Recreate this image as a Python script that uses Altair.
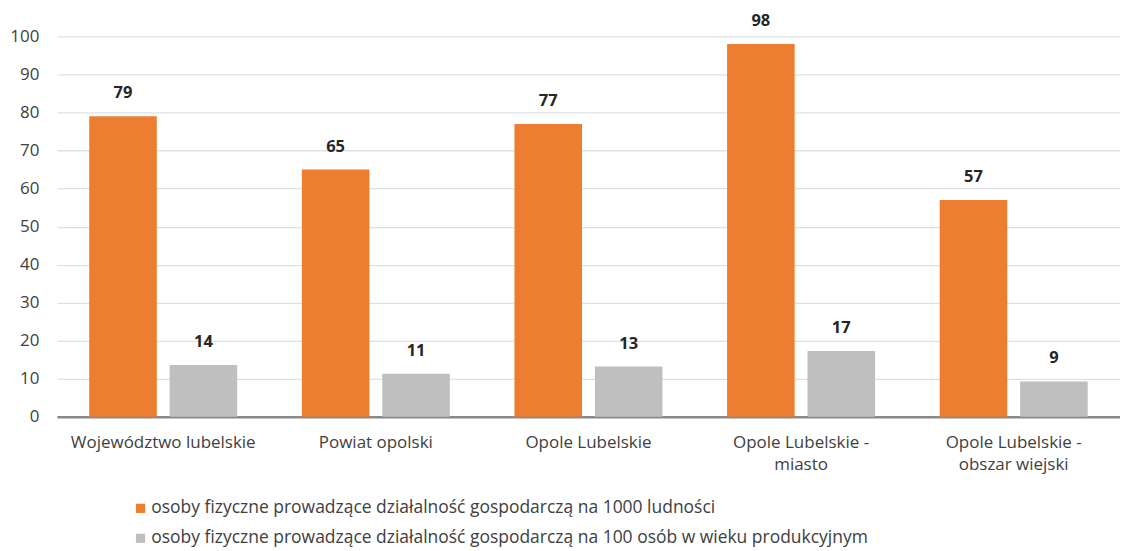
import altair as alt
import pandas as pd

categories = [
    "Województwo lubelskie",
    "Powiat opolski",
    "Opole Lubelskie",
    "Opole Lubelskie - miasto",
    "Opole Lubelskie - obszar wiejski",
]
series = [
    "osoby fizyczne prowadzące działalność gospodarczą na 1000 ludności",
    "osoby fizyczne prowadzące działalność gospodarczą na 100 osób w wieku produkcyjnym",
]
values_1000 = [79, 65, 77, 98, 57]
values_100 = [13.6, 11.3, 13.2, 17.3, 9.3]
colors = ["#ED7D31", "#BFBFBF"]
y_ticks = list(range(0, 101, 10))

rows = []
for c, a, b in zip(categories, values_1000, values_100):
    rows.append({"category": c, "series": series[0], "value": a})
    rows.append({"category": c, "series": series[1], "value": b})
df = pd.DataFrame(rows)

FONT = "Open Sans"

base = alt.Chart(df).encode(
    x=alt.X(
        "category:N",
        sort=categories,
        scale=alt.Scale(paddingInner=0.304, paddingOuter=0.152),
        axis=alt.Axis(
            title=None,
            labelAngle=0,
            labelExpr="split(replace(datum.label, ' - ', ' -|'), '|')",
            labelFont=FONT,
            labelFontSize=17,
            labelColor="#404040",
            labelPadding=18,
            labelLineHeight=22,
            labelBaseline="top",
            labelLimit=0,
            domainColor="#898989",
            domainWidth=2.5,
            ticks=False,
            grid=False,
        ),
    ),
    xOffset=alt.XOffset(
        "series:N", sort=series, scale=alt.Scale(paddingInner=0.16, paddingOuter=0)
    ),
    y=alt.Y(
        "value:Q",
        scale=alt.Scale(domain=[0, 100]),
        axis=alt.Axis(
            title=None,
            values=y_ticks,
            domain=False,
            ticks=False,
            grid=True,
            gridColor="#DDE1E6",
            gridWidth=1.3,
            labelFont=FONT,
            labelFontSize=17,
            labelColor="#404040",
            labelPadding=18,
        ),
    ),
)

bars = base.mark_bar().encode(
    color=alt.Color(
        "series:N",
        sort=series,
        scale=alt.Scale(domain=series, range=colors),
        legend=alt.Legend(
            title=None,
            orient="none",
            legendX=75,
            legendY=464,
            direction="vertical",
            symbolType="square",
            symbolSize=85,
            symbolStrokeWidth=0,
            labelFont=FONT,
            labelFontSize=17.5,
            labelColor="#404040",
            labelLimit=0,
            labelOffset=2,
            rowPadding=11,
            padding=0,
        ),
    )
)

labels = base.mark_text(
    baseline="bottom", dy=-15, fontWeight="bold", fontSize=16.5, color="#262626", font=FONT
).encode(text=alt.Text("value:Q", format=".0f"))

chart = (
    alt.layer(bars, labels)
    .properties(
        width=1065,
        height=381,
        autosize=alt.AutoSizeParams(type="none"),
        padding={"left": 49, "top": 28, "right": 0, "bottom": 134},
    )
    .configure_view(stroke=None)
)

chart.save("out.html", embed_options={"renderer": "svg", "actions": False})
